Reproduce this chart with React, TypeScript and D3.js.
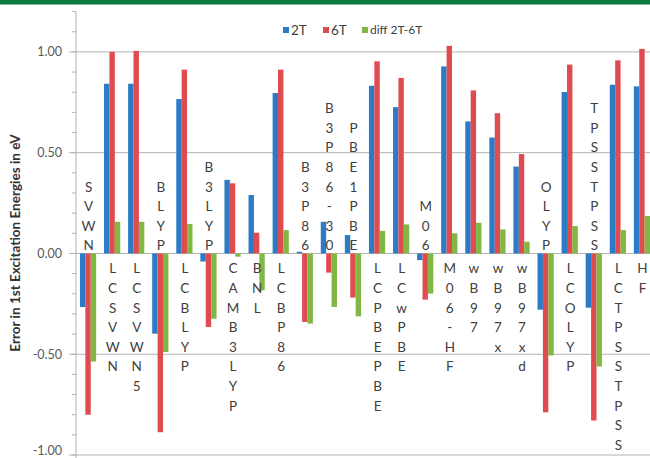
import React from "react";
import * as d3 from "d3";

const categories = [
  "SVWN", "LCSVWN", "LCSVWN5", "BLYP", "LCBLYP", "B3LYP", "CAMB3LYP", "BNL",
  "LCBP86", "B3P86", "B3P86-30", "PBE1PBE", "LCPBEPBE", "LCwPBE", "M06", "M06-HF",
  "wB97", "wB97x", "wB97xd", "OLYP", "LCOLYP", "TPSSTPSS", "LCTPSSTPSS", "HF",
];
const seriesNames = ["2T", "6T", "diff 2T-6T"];
const values2T = [
  -0.266, 0.842, 0.842, -0.398, 0.766, -0.04, 0.365, 0.29,
  0.796, 0.008, 0.157, 0.091, 0.832, 0.726, -0.033, 0.928,
  0.655, 0.575, 0.431, -0.279, 0.801, -0.269, 0.837, 0.829,
];
const values6T = [
  -0.8, 1.0, 1.005, -0.887, 0.912, -0.365, 0.348, 0.103,
  0.912, -0.34, -0.095, -0.219, 0.953, 0.871, -0.229, 1.03,
  0.809, 0.696, 0.493, -0.788, 0.937, -0.829, 0.958, 1.015,
];
const valuesDiff = [
  -0.536, 0.157, 0.157, -0.489, 0.146, -0.324, -0.016, -0.183,
  0.116, -0.348, -0.266, -0.312, 0.112, 0.144, -0.199, 0.1,
  0.152, 0.119, 0.058, -0.506, 0.136, -0.561, 0.116, 0.186,
];
// whether each category's label sits above the zero line
const labelAbove = [
  true, false, false, true, false, true, false, false,
  false, true, true, true, false, false, true, false,
  false, false, false, true, false, true, false, false,
];
const yTickValues = [1.0, 0.5, 0.0, -0.5, -1.0];
const yTickLabels = ["1.00", "0.50", "0.00", "-0.50", "-1.00"];
const yTitle = "Error in 1st Excitation Energies in eV";

const W = 650;
const H = 458;
const colors = ["#2b7bc6", "#e04b50", "#80b843"];
const FONT = "Lato, 'Open Sans', sans-serif";

export default function App() {
  const x0 = d3.scaleBand<string>().domain(categories).range([76, 654]).paddingInner(0).paddingOuter(0);
  const x1 = d3.scaleBand<string>().domain(seriesNames).range([0, x0.bandwidth()]).paddingInner(0).paddingOuter(0.73);
  const y = d3.scaleLinear().domain([-1, 1.2]).range([455, 11.6]);
  const allSeries = [values2T, values6T, valuesDiff];
  const minorTicks = d3.range(-10, 13).map((v) => v / 10);
  const lineH = 19.6;

  return (
    <svg width={W} height={H} style={{ position: "absolute", left: 0, top: 0, background: "#fff" }} fontFamily={FONT}>
      <rect x={0} y={0} width={W} height={4.5} fill="#0b7a3b" />
      {/* gridlines */}
      {yTickValues.map((v) => (
        <line key={"g" + v} x1={69} x2={W} y1={y(v)} y2={y(v)} stroke="#b3b3b3" strokeWidth={1} />
      ))}
      {/* minor ticks */}
      {minorTicks.map((v) => (
        <line key={"m" + v} x1={72} x2={76} y1={y(v)} y2={y(v)} stroke="#b3b3b3" strokeWidth={1} />
      ))}
      <line x1={76} x2={76} y1={y(1.2)} y2={H} stroke="#b3b3b3" strokeWidth={1} />
      {/* y tick labels */}
      {yTickValues.map((v, i) => (
        <text key={"t" + v} x={62} y={Math.min(y(v), H - 7)} dy="0.35em" textAnchor="end" fontSize={12.5} fill="#595959">
          {yTickLabels[i]}
        </text>
      ))}
      <text
        transform={`translate(20,243) rotate(-90)`}
        textAnchor="middle"
        fontSize={13.5}
        fontWeight="bold"
        fill="#333"
      >
        {yTitle}
      </text>
      {/* bars */}
      {categories.map((c, ci) => (
        <g key={c} transform={`translate(${x0(c)},0)`}>
          {seriesNames.map((s, si) => {
            const v = allSeries[si][ci];
            return (
              <rect
                key={s}
                x={x1(s)}
                y={Math.min(y(v), y(0))}
                width={x1.bandwidth()}
                height={Math.abs(y(v) - y(0))}
                fill={colors[si]}
              />
            );
          })}
        </g>
      ))}
      {/* category labels */}
      {categories.map((c, ci) => {
        const cx = (x0(c) as number) + x0.bandwidth() / 2 + 0.5;
        const chars = c.split("");
        const n = chars.length;
        return (
          <g key={"l" + c}>
            {chars.map((ch, k) => {
              const cy = labelAbove[ci] ? y(0) - 8 - (n - 1 - k) * lineH : y(0) + 15 + k * lineH;
              return (
                <text key={k} x={cx} y={cy} dy="0.36em" textAnchor="middle" fontSize={13.5} fill="#404040">
                  {ch}
                </text>
              );
            })}
          </g>
        );
      })}
      {/* legend */}
      {[
        { sq: 283, tx: 291 },
        { sq: 323, tx: 331 },
        { sq: 362, tx: 370 },
      ].map((p, i) => (
        <g key={"lg" + i}>
          <rect x={p.sq} y={27} width={6} height={6} fill={colors[i]} />
          <text x={p.tx} y={30} dy="0.36em" fontSize={i === 2 ? 12 : 13.5} fill="#404040">
            {seriesNames[i]}
          </text>
        </g>
      ))}
    </svg>
  );
}
